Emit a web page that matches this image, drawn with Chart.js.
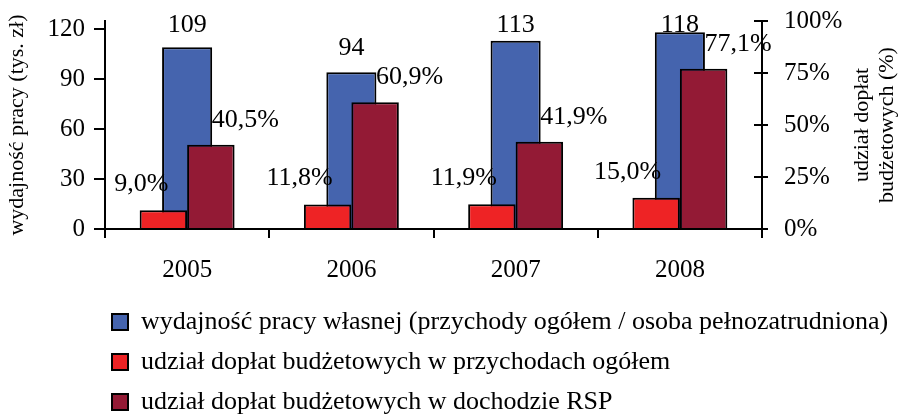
<!DOCTYPE html>
<html><head><meta charset="utf-8">
<script src="https://cdn.jsdelivr.net/npm/chart.js@4.4.0/dist/chart.umd.min.js"></script>
<style>html,body{margin:0;padding:0;background:#fff;} #wrap{width:904px;height:419px;}</style>
</head><body><div id="wrap"><canvas id="c" width="904" height="419"></canvas></div>
<script>
const years = ['2005', '2006', '2007', '2008'];
const productivity = [109, 94, 113, 118];          // tys. zł (left axis)
const shareRevenue = [9.0, 11.8, 11.9, 15.0];      // % (right axis)
const shareIncome = [40.5, 60.9, 41.9, 77.1];      // % (right axis)
const leftTicks = [0, 30, 60, 90, 120];
const rightTicks = [0, 25, 50, 75, 100];
const seriesNames = [
  'wydajność pracy własnej (przychody ogółem / osoba pełnozatrudniona)',
  'udział dopłat budżetowych w przychodach ogółem',
  'udział dopłat budżetowych w dochodzie RSP'
];
const leftTitle = 'wydajność pracy (tys. zł)';
const rightTitle = ['udział dopłat', 'budżetowych (%)'];

const FONT = "'Liberation Serif', 'Times New Roman', serif";
const fmtPct = v => v.toFixed(1).replace('.', ',') + '%';

const valueLabels = {
  id: 'valueLabels',
  afterDatasetsDraw(chart) {
    const ctx = chart.ctx;
    ctx.save();
    ctx.font = '26px ' + FONT;
    ctx.fillStyle = '#000';
    ctx.textBaseline = 'alphabetic';
    chart.data.datasets.forEach((ds, di) => {
      const meta = chart.getDatasetMeta(di);
      meta.data.forEach((bar, i) => {
        const v = ds.data[i];
        if (ds.labelKind === 'abs') {
          ctx.textAlign = 'center';
          ctx.fillText(String(v), bar.x, Math.max(bar.y - 17, chart.chartArea.top + 11));
        } else if (ds.labelKind === 'leftPct') {
          ctx.textAlign = 'right';
          ctx.fillText(fmtPct(v), bar.x + 5, bar.y - 19);
        } else {
          ctx.textAlign = 'left';
          ctx.fillText(fmtPct(v), bar.x + 1, bar.y - 18);
        }
      });
    });
    // inner half of the crossing tick marks on the right axis
    const sc = chart.scales.y2;
    ctx.strokeStyle = '#000';
    ctx.lineWidth = 2;
    sc.ticks.forEach(t => {
      const y = Math.round(sc.getPixelForValue(t.value));
      ctx.beginPath();
      ctx.moveTo(sc.left - 8, y);
      ctx.lineTo(sc.left, y);
      ctx.stroke();
    });
    ctx.restore();
  },
  afterDraw(chart) {
    const ctx = chart.ctx;
    const sc = chart.scales.y2;
    const cy = (chart.chartArea.top + chart.chartArea.bottom) / 2;
    ctx.save();
    ctx.font = '22px ' + FONT;
    ctx.fillStyle = '#000';
    ctx.textAlign = 'center';
    ctx.textBaseline = 'middle';
    const xs = [sc.right - 42, sc.right - 17];
    rightTitle.forEach((line, k) => {
      ctx.save();
      ctx.translate(xs[k], cy);
      ctx.rotate(-Math.PI / 2);
      ctx.fillText(line, 0, 0);
      ctx.restore();
    });
    ctx.restore();
  },
  afterLayout(chart) {
    const lg = chart.legend;
    if (lg) {
      lg.left += 98; lg.right += 98;
      lg.top += 6; lg.bottom += 6;
    }
  }
};

const axisStyle = {color: '#000', width: 2};
const tickFont = {family: FONT, size: 25};

new Chart(document.getElementById('c'), {
  type: 'bar',
  data: {
    labels: years,
    datasets: [
      {
        label: seriesNames[0], data: productivity, yAxisID: 'y',
        backgroundColor: '#4564AE', borderColor: '#000', borderWidth: 2,
        grouped: false, categoryPercentage: 1, barPercentage: 0.305, order: 3, labelKind: 'abs'
      },
      {
        label: seriesNames[1], data: shareRevenue, yAxisID: 'y2',
        backgroundColor: '#EE2325', borderColor: '#000', borderWidth: 2,
        categoryPercentage: 0.578, barPercentage: 1, order: 1, labelKind: 'leftPct'
      },
      {
        label: seriesNames[2], data: shareIncome, yAxisID: 'y2',
        backgroundColor: '#931A35', borderColor: '#000', borderWidth: 2,
        categoryPercentage: 0.578, barPercentage: 1, order: 2, labelKind: 'rightPct'
      }
    ]
  },
  options: {
    responsive: false,
    animation: false,
    devicePixelRatio: 1,
    layout: {padding: {top: 21, left: 0, right: 0, bottom: 0}},
    plugins: {
      tooltip: {enabled: false},
      legend: {
        display: true, position: 'bottom', align: 'start', fullSize: true,
        labels: {
          font: {family: FONT, size: 26}, color: '#000',
          boxWidth: 16, boxHeight: 16, padding: 14,
          sort: (a, b) => a.datasetIndex - b.datasetIndex
        }
      }
    },
    scales: {
      x: {
        type: 'category', position: 'bottom', offset: true,
        grid: {display: true, drawOnChartArea: false, offset: true, tickLength: 9, color: '#000', lineWidth: 2},
        border: axisStyle,
        ticks: {font: tickFont, color: '#000', padding: 17},
        afterFit: s => { s.height = 60; s.paddingLeft = 0; s.paddingRight = 0; }
      },
      y: {
        position: 'left', min: 0, max: 124.8,
        afterBuildTicks: s => { s.ticks = leftTicks.map(v => ({value: v})); },
        grid: {drawOnChartArea: false, tickLength: 11, color: '#000', lineWidth: 2},
        border: axisStyle,
        ticks: {font: tickFont, color: '#000', padding: 9},
        title: {display: true, text: leftTitle, font: {family: FONT, size: 22}, color: '#000', padding: {top: 4, bottom: 4}},
        afterFit: s => { s.width = 105; s.paddingTop = 0; s.paddingBottom = 0; }
      },
      y2: {
        position: 'right', min: 0, max: 100,
        afterBuildTicks: s => { s.ticks = rightTicks.map(v => ({value: v})); },
        grid: {drawOnChartArea: false, tickLength: 6, color: '#000', lineWidth: 2},
        border: axisStyle,
        ticks: {font: tickFont, color: '#000', padding: 16, callback: v => v + '%'},
        afterFit: s => { s.width = 142; s.paddingTop = 0; s.paddingBottom = 0; }
      }
    }
  },
  plugins: [valueLabels]
});
</script>
</body></html>
